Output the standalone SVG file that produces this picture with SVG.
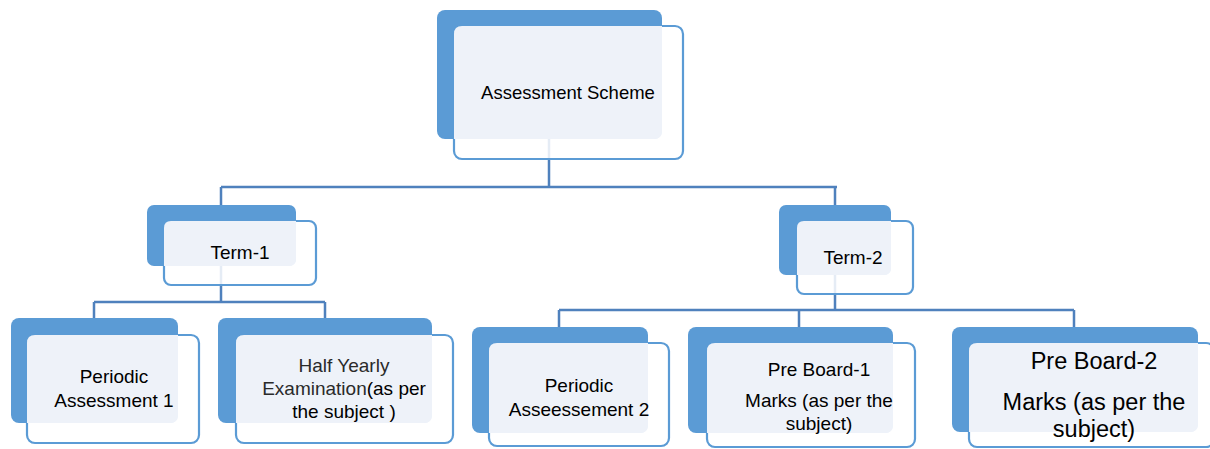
<svg xmlns="http://www.w3.org/2000/svg" width="1210" height="449" viewBox="0 0 1210 449">
<style>
.back{fill:#5B9BD5}
.front{fill:#FFFFFF;fill-opacity:0.85;stroke:#5B9BD5;stroke-width:2.2}
.light{fill:#EEF2F9}
.conn{fill:none;stroke:#4F81BD;stroke-width:2.5}
text{font-family:"Liberation Sans",Arial,sans-serif;font-size:19px;fill:#000;text-anchor:middle}
.lt{fill:#2a2a2a}
</style>
<rect width="1210" height="449" fill="#FFFFFF"/>
<g id="connectors">
<path class="conn" d="M549,139 V187 M221,187 H837 M221,187 V205 M835,187 V205"/>
<path class="conn" d="M221,266 V302 M94,302 H325 M94,302 V318 M325,302 V318"/>
<path class="conn" d="M835,275 V310 M559,310 H1074 M559,310 V327 M799,310 V327 M1074,310 V327"/>
</g>
<g id="root">
<rect class="back" x="437" y="10" width="225" height="129" rx="8"/>
<rect class="front" x="454" y="26" width="229" height="133" rx="8"/>
<path class="light" d="M462,26 H662 V131 Q662,139 654,139 H454 V34 Q454,26 462,26 Z"/>
<text x="568" y="99" style="font-size:18.5px">Assessment Scheme</text>
</g>
<g id="term1">
<rect class="back" x="147" y="205" width="149" height="61" rx="7"/>
<rect class="front" x="164" y="221" width="152" height="64" rx="7"/>
<path class="light" d="M171,221 H296 V259 Q296,266 289,266 H164 V228 Q164,221 171,221 Z"/>
<text x="240" y="259">Term-1</text>
</g>
<g id="term2">
<rect class="back" x="779" y="205" width="112" height="70" rx="7"/>
<rect class="front" x="797" y="221" width="116" height="73" rx="7"/>
<path class="light" d="M804,221 H891 V268 Q891,275 884,275 H797 V228 Q797,221 804,221 Z"/>
<text x="853" y="264">Term-2</text>
</g>
<g id="pa1">
<rect class="back" x="11" y="318" width="167" height="105" rx="8"/>
<rect class="front" x="27" y="335" width="172" height="108" rx="8"/>
<path class="light" d="M35,335 H178 V415 Q178,423 170,423 H27 V343 Q27,335 35,335 Z"/>
<text x="114" y="383">Periodic</text>
<text x="114" y="407">Assessment 1</text>
</g>
<g id="hy">
<rect class="back" x="218" y="318" width="214" height="105" rx="8"/>
<rect class="front" x="236" y="335" width="217" height="108" rx="8"/>
<path class="light" d="M244,335 H432 V415 Q432,423 424,423 H236 V343 Q236,335 244,335 Z"/>
<text x="344" y="372" class="lt">Half Yearly</text>
<text x="344" y="395"><tspan class="lt">Examination</tspan>(as per</text>
<text x="344" y="418">the subject )</text>
</g>
<g id="pa2">
<rect class="back" x="472" y="327" width="176" height="106" rx="8"/>
<rect class="front" x="489" y="343" width="180" height="103" rx="8"/>
<path class="light" d="M497,343 H648 V425 Q648,433 640,433 H489 V351 Q489,343 497,343 Z"/>
<text x="579" y="392">Periodic</text>
<text x="579" y="416">Asseessement 2</text>
</g>
<g id="pb1">
<rect class="back" x="688" y="327" width="205" height="106" rx="8"/>
<rect class="front" x="707" y="343" width="208" height="104" rx="8"/>
<path class="light" d="M715,343 H893 V425 Q893,433 885,433 H707 V351 Q707,343 715,343 Z"/>
<text x="819" y="376">Pre Board-1</text>
<text x="819" y="407">Marks (as per the</text>
<text x="819" y="430">subject)</text>
</g>
<g id="pb2">
<rect class="back" x="952" y="327" width="246" height="105" rx="8"/>
<rect class="front" x="969" y="343" width="245" height="104" rx="8"/>
<path class="light" d="M977,343 H1198 V424 Q1198,432 1190,432 H969 V351 Q969,343 977,343 Z"/>
<text x="1094" y="369" style="font-size:23.5px">Pre Board-2</text>
<text x="1094" y="410" style="font-size:23.5px">Marks (as per the</text>
<text x="1094" y="437" style="font-size:23.5px">subject)</text>
</g>
</svg>
